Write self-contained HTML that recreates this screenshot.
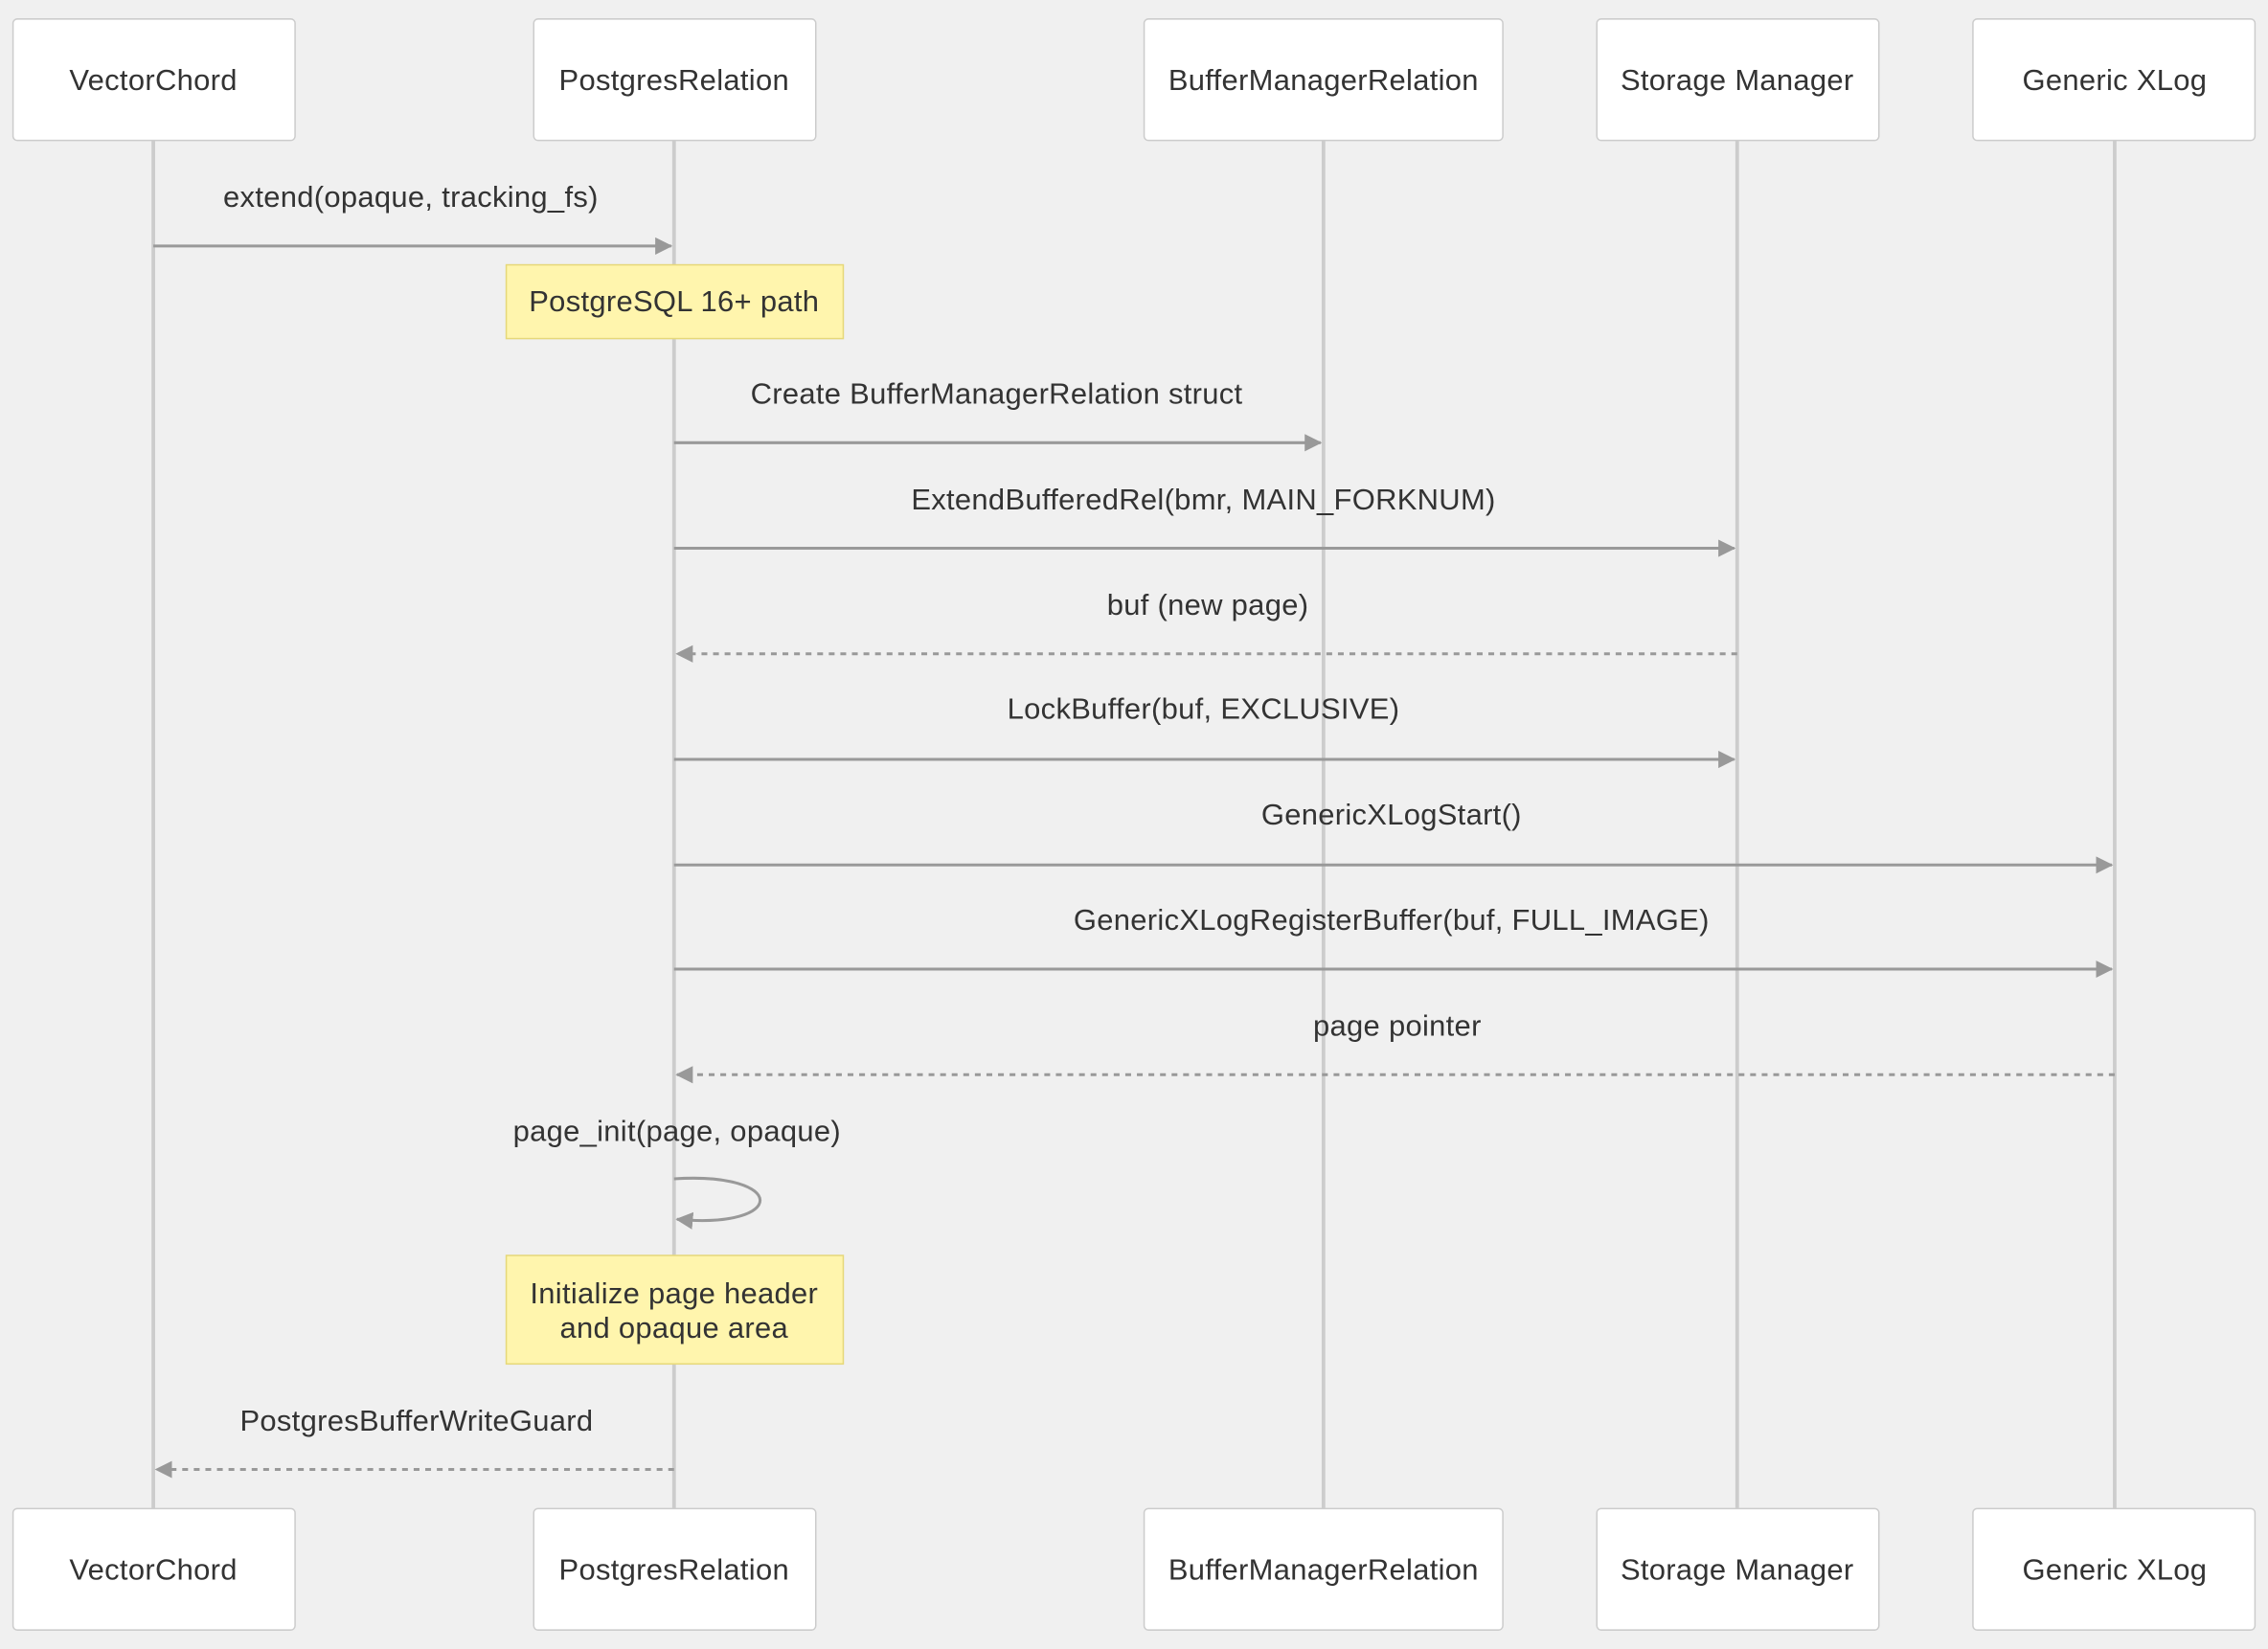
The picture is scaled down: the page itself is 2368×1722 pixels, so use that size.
<!DOCTYPE html>
<html><head><meta charset="utf-8"><style>
html,body{margin:0;padding:0;background:#f0f0f0;}
svg{display:block;}
text{font-family:"Liberation Sans",sans-serif;fill:#333;font-size:20.5px;letter-spacing:0.2px;}
</style></head><body>
<svg width="2368" height="1722" viewBox="0 0 1568 1140" xmlns="http://www.w3.org/2000/svg">
<defs>
<marker id="a" markerWidth="12" markerHeight="12" refX="11" refY="6" orient="auto" markerUnits="userSpaceOnUse">
<path d="M0,0 L12,6 L0,12 z" fill="#999"/></marker>
</defs>
<rect width="1568" height="1140" fill="#f0f0f0"/>
<g stroke="#ccc" stroke-width="2.5">
<line x1="106" y1="97" x2="106" y2="1043"/>
<line x1="466" y1="97" x2="466" y2="1043"/>
<line x1="915" y1="97" x2="915" y2="1043"/>
<line x1="1201" y1="97" x2="1201" y2="1043"/>
<line x1="1462" y1="97" x2="1462" y2="1043"/>
</g>
<g fill="#fff" stroke="#ccc" stroke-width="1">
<rect x="9" y="13" width="195" height="84" rx="3"/>
<rect x="369" y="13" width="195" height="84" rx="3"/>
<rect x="791" y="13" width="248" height="84" rx="3"/>
<rect x="1104" y="13" width="195" height="84" rx="3"/>
<rect x="1364" y="13" width="195" height="84" rx="3"/>
<rect x="9" y="1043" width="195" height="84" rx="3"/>
<rect x="369" y="1043" width="195" height="84" rx="3"/>
<rect x="791" y="1043" width="248" height="84" rx="3"/>
<rect x="1104" y="1043" width="195" height="84" rx="3"/>
<rect x="1364" y="1043" width="195" height="84" rx="3"/>
</g>
<g text-anchor="middle">
<text x="106" y="62">VectorChord</text>
<text x="466" y="62">PostgresRelation</text>
<text x="915" y="62">BufferManagerRelation</text>
<text x="1201" y="62">Storage Manager</text>
<text x="1462" y="62">Generic XLog</text>
<text x="106" y="1092">VectorChord</text>
<text x="466" y="1092">PostgresRelation</text>
<text x="915" y="1092">BufferManagerRelation</text>
<text x="1201" y="1092">Storage Manager</text>
<text x="1462" y="1092">Generic XLog</text>
</g>
<g fill="#fff5ad" stroke="#e6d87a" stroke-width="1">
<rect x="350" y="183" width="233" height="51"/>
<rect x="350" y="868" width="233" height="75"/>
</g>
<g text-anchor="middle">
<text x="466" y="215">PostgreSQL 16+ path</text>
<text x="466" y="901">Initialize page header</text>
<text x="466" y="925">and opaque area</text>
<text x="284" y="143">extend(opaque, tracking_fs)</text>
<text x="689" y="279">Create BufferManagerRelation struct</text>
<text x="832" y="352">ExtendBufferedRel(bmr, MAIN_FORKNUM)</text>
<text x="835" y="425">buf (new page)</text>
<text x="832" y="497">LockBuffer(buf, EXCLUSIVE)</text>
<text x="962" y="570">GenericXLogStart()</text>
<text x="962" y="643">GenericXLogRegisterBuffer(buf, FULL_IMAGE)</text>
<text x="966" y="716">page pointer</text>
<text x="468" y="789">page_init(page, opaque)</text>
<text x="288" y="989">PostgresBufferWriteGuard</text>
</g>
<g stroke="#999" stroke-width="2" fill="none">
<line x1="106" y1="170" x2="464" y2="170" marker-end="url(#a)"/>
<line x1="466" y1="306" x2="913" y2="306" marker-end="url(#a)"/>
<line x1="466" y1="379" x2="1199" y2="379" marker-end="url(#a)"/>
<line x1="1201" y1="452" x2="468" y2="452" stroke-dasharray="4,4" marker-end="url(#a)"/>
<line x1="466" y1="525" x2="1199" y2="525" marker-end="url(#a)"/>
<line x1="466" y1="598" x2="1460" y2="598" marker-end="url(#a)"/>
<line x1="466" y1="670" x2="1460" y2="670" marker-end="url(#a)"/>
<line x1="1462" y1="743" x2="468" y2="743" stroke-dasharray="4,4" marker-end="url(#a)"/>
<path d="M466,815 C545,810 545,850 468,843" marker-end="url(#a)"/>
<line x1="466" y1="1016" x2="108" y2="1016" stroke-dasharray="4,4" marker-end="url(#a)"/>
</g>
</svg>
</body></html>
